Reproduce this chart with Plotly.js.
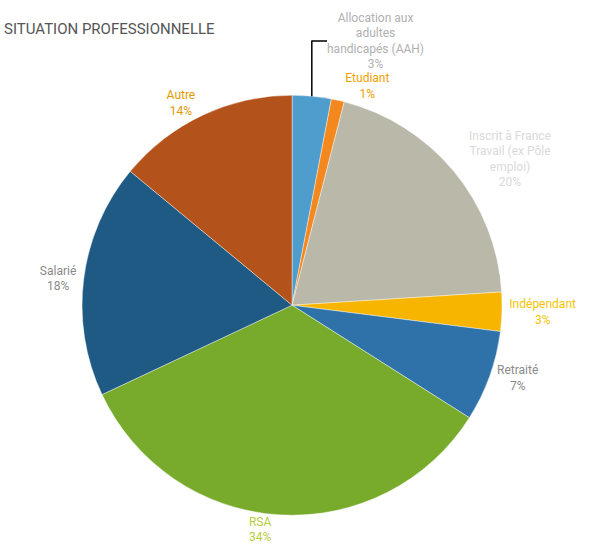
<!DOCTYPE html>
<html>
<head>
<meta charset="utf-8">
<script src="https://cdn.plot.ly/plotly-3.0.1.min.js"></script>
<style>html,body{margin:0;padding:0;background:#fff;}#chart{width:593px;height:560px;}</style>
</head>
<body>
<div id="chart"></div>
<script>
const categories = [
  "Allocation aux<br>adultes<br>handicapés (AAH)",
  "Etudiant",
  "Inscrit à France<br>Travail (ex Pôle<br>emploi)",
  "Indépendant",
  "Retraité",
  "RSA",
  "Salarié",
  "Autre"
];
const shares = [3, 1, 20, 3, 7, 34, 18, 14];
const sliceColors = ["#4f9dcc", "#f3891e", "#b9b8a9", "#f7b500", "#2f72aa", "#78ab2c", "#1f5a84", "#b4521b"];
const labelColors = ["#b0b0b0", "#f0a000", "#dadada", "#f5c400", "#8a8a8a", "#b8cc3a", "#8a8a8a", "#e09a00"];
const titleText = "SITUATION PROFESSIONNELLE";

const data = [{
  type: "pie",
  values: shares,
  labels: categories,
  sort: false,
  direction: "clockwise",
  rotation: 0,
  marker: {colors: sliceColors, line: {color: "#ffffff", width: 0.4}},
  textposition: "outside",
  texttemplate: "%{label}<br>%{value}%",
  textfont: {family: "Roboto, sans-serif", size: 12, color: labelColors},
  hoverinfo: "none",
  showlegend: false,
  domain: {x: [0.138, 0.847], y: [0.08, 0.83]}
}];

const layout = {
  width: 593,
  height: 560,
  margin: {l: 0, r: 0, t: 0, b: 0},
  paper_bgcolor: "#ffffff",
  showlegend: false,
  annotations: [{
    text: titleText,
    xref: "paper", yref: "paper",
    x: 0.004, y: 0.948,
    xanchor: "left", yanchor: "middle",
    showarrow: false,
    font: {family: "Roboto, sans-serif", size: 15, color: "#555555"}
  }]
};

Plotly.newPlot("chart", data, layout, {displayModeBar: false, staticPlot: true});
</script>
</body>
</html>
